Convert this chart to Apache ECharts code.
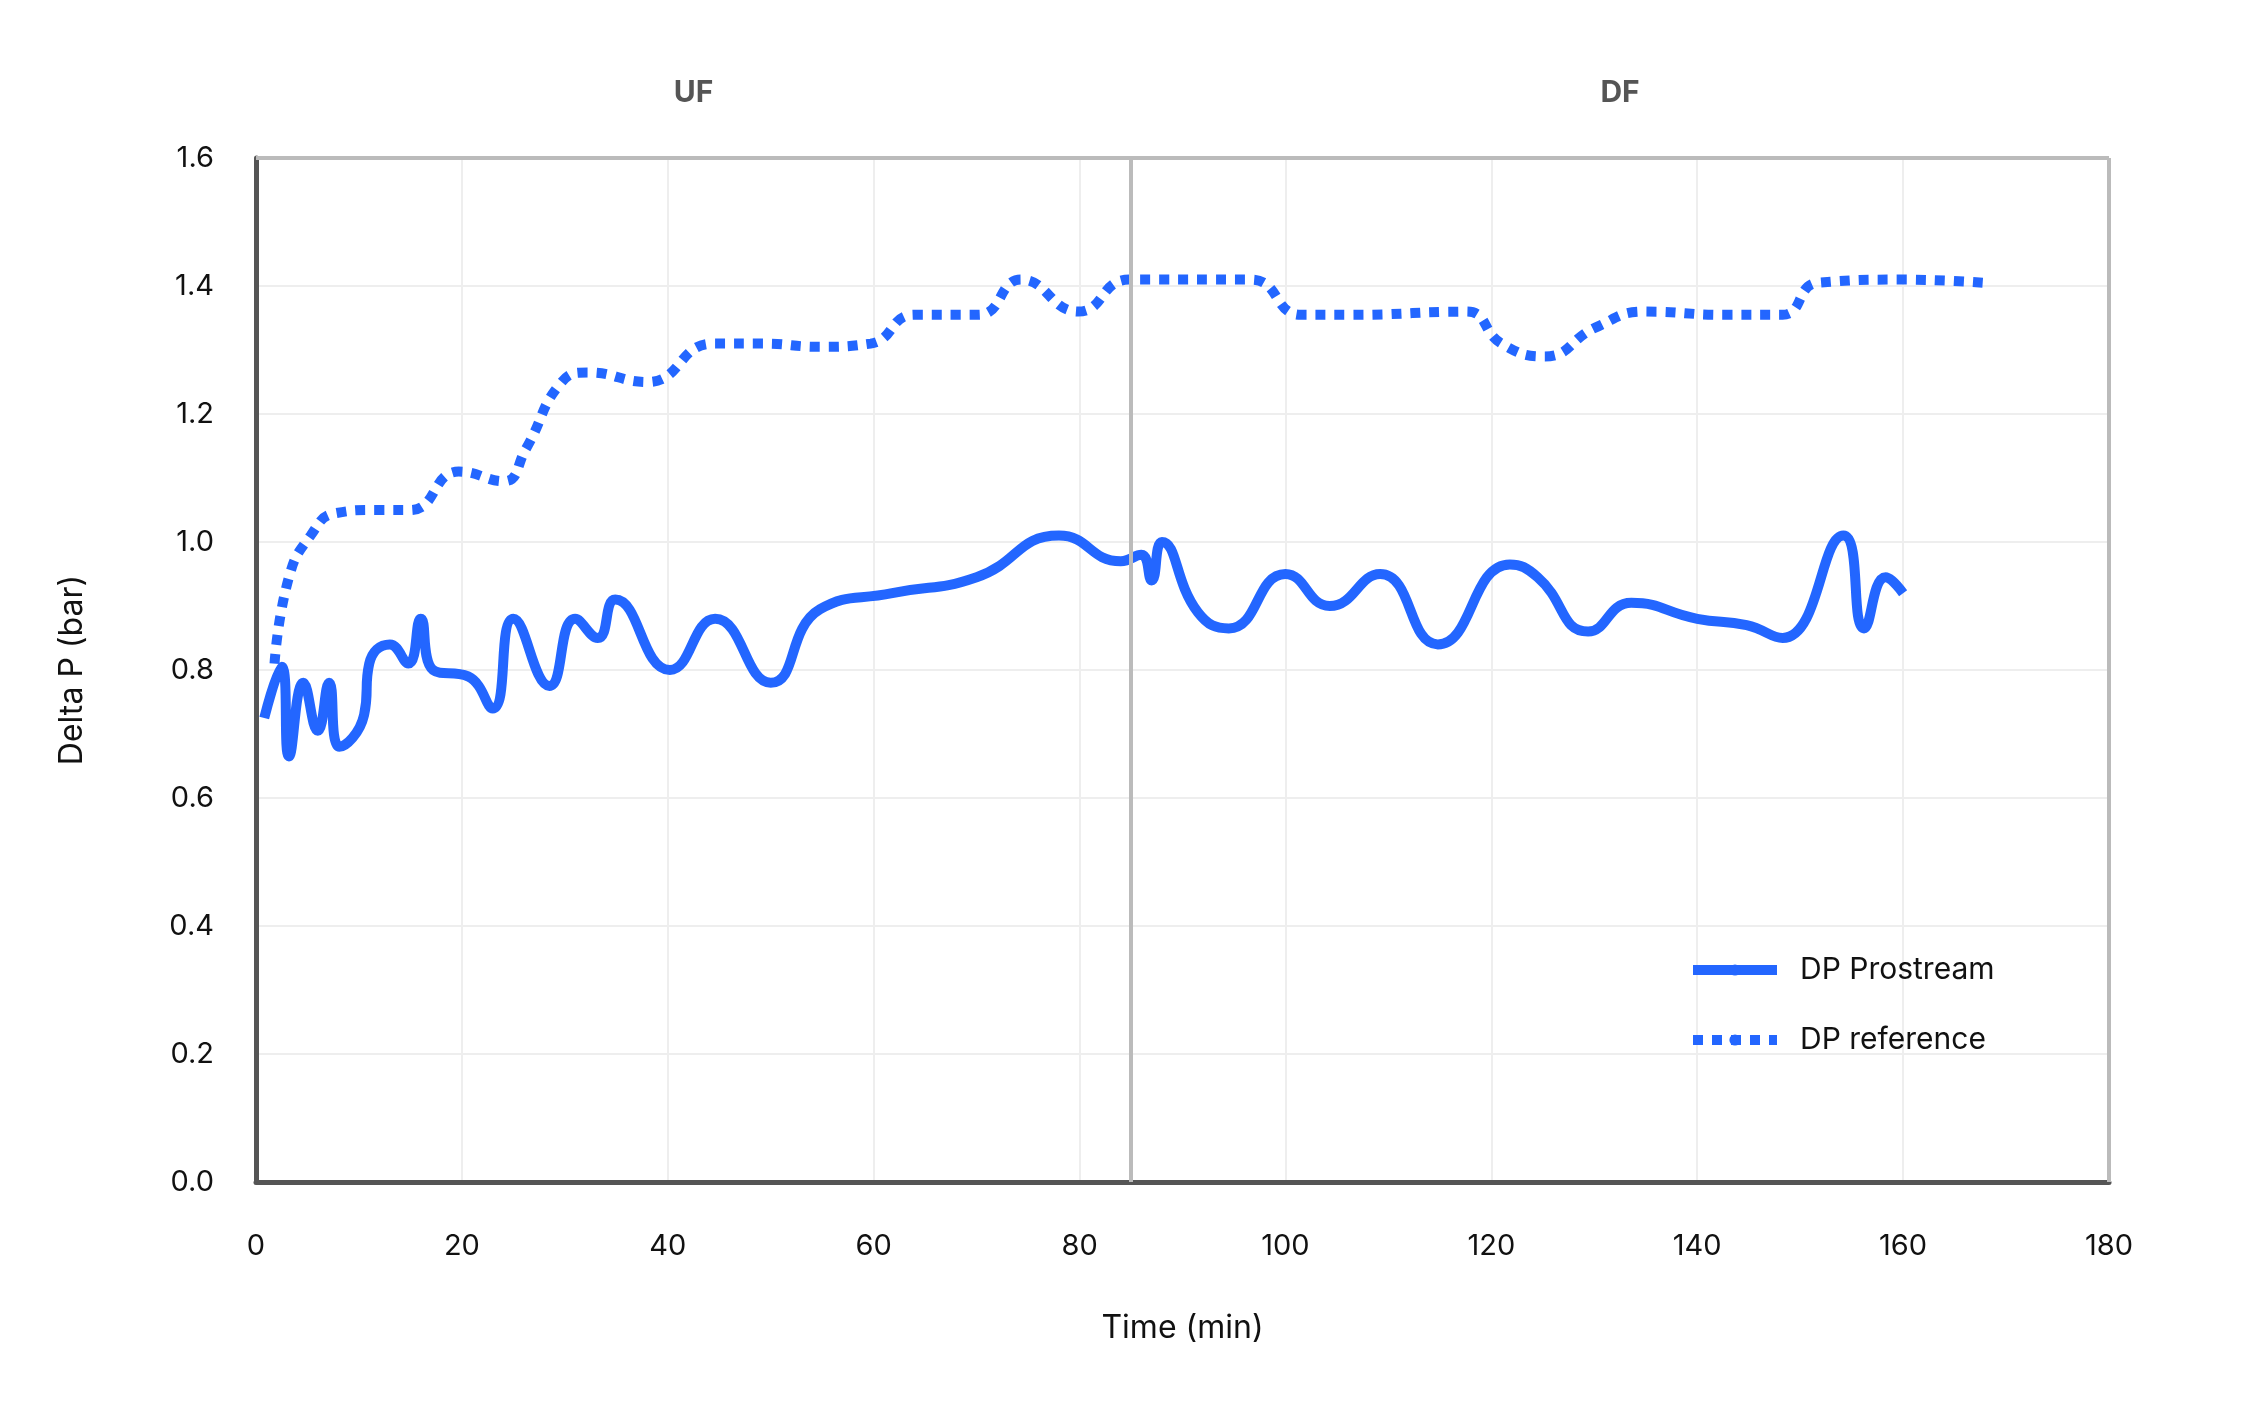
<!DOCTYPE html>
<html><head><meta charset="utf-8">
<script src="https://cdn.jsdelivr.net/npm/echarts@6/dist/echarts.min.js"></script>
<style>html,body{margin:0;padding:0;background:#fff}#c{width:2255px;height:1412px}</style>
</head><body><div id="c"></div>
<script>
const prostreamX = [0.8,2.5,3.2,4.6,6,7.1,8.1,10.5,11,13,14.8,16,17.2,20.6,23,25,28.5,31,33.2,34.9,40.2,44.6,50,54.8,61.8,70,78,84,86,87,88,91.5,94.5,100,104.3,109.2,114.8,121.8,124.5,129.4,133.6,140,144.8,148.3,154.2,156.2,158.3,160];
const prostreamY = [0.725,0.805,0.665,0.78,0.705,0.78,0.68,0.73,0.81,0.84,0.81,0.88,0.8,0.79,0.74,0.88,0.775,0.88,0.85,0.91,0.80,0.88,0.78,0.895,0.92,0.945,1.01,0.97,0.98,0.94,1.0,0.89,0.865,0.95,0.90,0.95,0.84,0.965,0.945,0.86,0.905,0.88,0.87,0.85,1.01,0.865,0.945,0.92];
const referenceX = [1.8,3.2,5.3,7.7,11.6,15,19.7,24.1,26.2,29.7,32.2,38,44.4,49.2,54.8,59.7,63.9,70.2,74.3,79.9,84.8,96.7,101.5,106.4,117.6,121,125.2,130.1,135,142.7,148.3,151.7,160,167.8];
const referenceY = [0.81,0.945,1.01,1.045,1.05,1.05,1.11,1.095,1.145,1.25,1.265,1.25,1.31,1.31,1.305,1.31,1.355,1.355,1.41,1.36,1.41,1.41,1.355,1.355,1.36,1.31,1.29,1.335,1.36,1.355,1.355,1.405,1.41,1.405];
const phaseNames = ['UF','DF'];
const phaseBounds = [0,85,180];
const yTop = 1.6;

const zip=(a,b)=>a.map((v,i)=>[v,b[i]]);
const FONT='Inter';
const BLUE='#2366ff';
const chart=echarts.init(document.getElementById('c'));
chart.setOption({
  backgroundColor:'#fff',
  textStyle:{fontFamily:FONT},
  grid:{left:256,right:146,top:158,bottom:230},
  legend:{orient:'vertical',left:1683,top:950,itemWidth:84,itemHeight:14,itemGap:40,
    textStyle:{fontSize:30,color:'#111',fontFamily:FONT,padding:[0,0,0,18]},
    data:[{name:'DP Prostream',lineStyle:{width:10,type:'solid',color:BLUE}},
          {name:'DP reference',lineStyle:{width:10,type:[10,9],cap:'butt',color:BLUE}}]},
  xAxis:{type:'value',min:0,max:180,interval:20,
    name:'Time (min)',nameLocation:'middle',nameGap:130,nameTextStyle:{fontSize:32,color:'#111'},
    axisLine:{lineStyle:{color:'#555',width:5}},axisTick:{show:false},
    axisLabel:{fontSize:29,color:'#111',margin:50},
    splitLine:{show:true,lineStyle:{color:'#eeeeee',width:2}}},
  yAxis:{type:'value',min:0,max:1.6,interval:0.2,
    name:'Delta P (bar)',nameLocation:'middle',nameGap:168,nameRotate:90,nameTextStyle:{fontSize:32,color:'#111'},
    axisLine:{show:true,lineStyle:{color:'#555',width:5}},axisTick:{show:false},
    axisLabel:{fontSize:29,color:'#111',margin:42,formatter:v=>v.toFixed(1)},
    splitLine:{show:true,lineStyle:{color:'#eeeeee',width:2}}},
  series:[
    {name:'DP Prostream',type:'line',smooth:0.5,symbol:'none',data:zip(prostreamX,prostreamY),
     lineStyle:{color:BLUE,width:10},itemStyle:{color:BLUE},z:3,
     markLine:{silent:true,symbol:'none',label:{show:false},lineStyle:{color:'#bbbbbb',width:4,type:'solid'},
       data:[{xAxis:phaseBounds[1]},{xAxis:phaseBounds[2]},
             [{coord:[phaseBounds[0],yTop]},{coord:[phaseBounds[2],yTop]}]]},
     markArea:{silent:true,itemStyle:{color:'rgba(0,0,0,0)'},
       label:{show:true,position:'top',distance:50,fontSize:30,fontWeight:'bold',color:'#555'},
       data:phaseNames.map((n,i)=>[{name:n,coord:[phaseBounds[i],0]},{coord:[phaseBounds[i+1],yTop]}])}},
    {name:'DP reference',type:'line',smooth:0.5,symbol:'none',data:zip(referenceX,referenceY),
     lineStyle:{color:BLUE,width:10,type:[10,9],cap:'butt'},itemStyle:{color:BLUE},z:3}
  ]
});
</script></body></html>
